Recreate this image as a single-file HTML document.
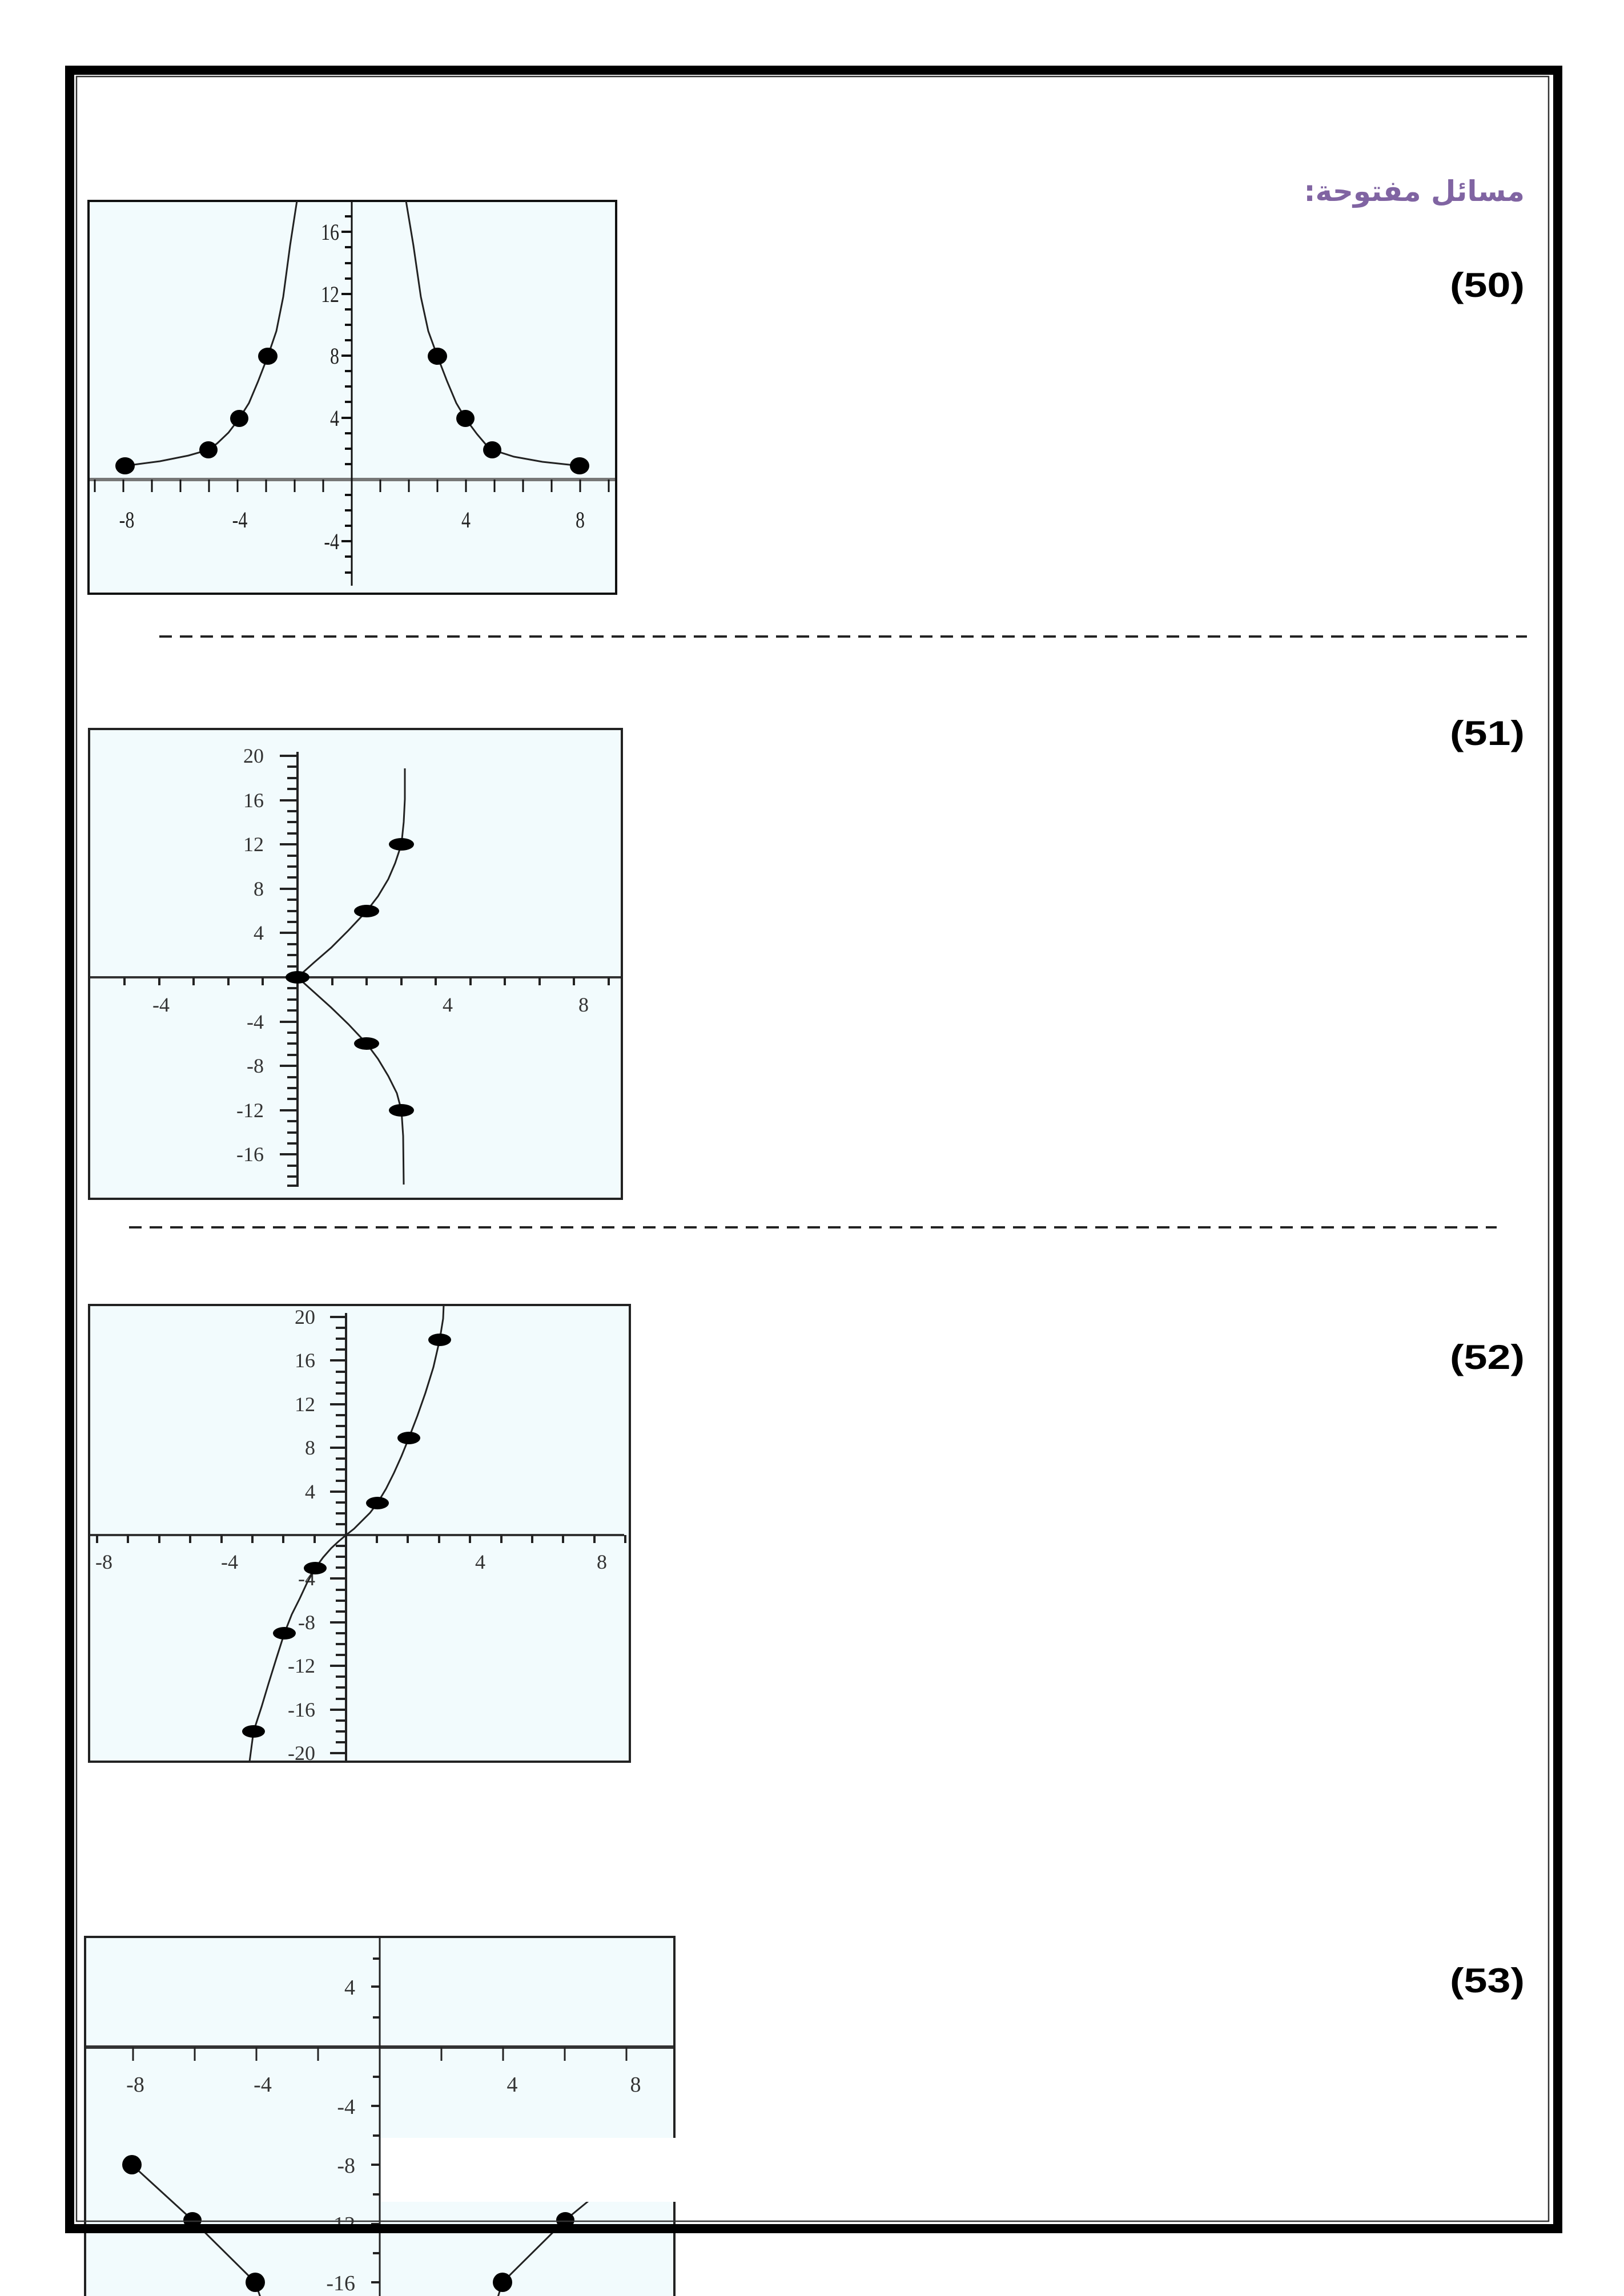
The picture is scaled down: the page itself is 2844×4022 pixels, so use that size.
<!DOCTYPE html>
<html><head><meta charset="utf-8"><style>html,body{margin:0;padding:0;background:#fff}svg{display:block}</style></head>
<body>
<svg width="2844" height="4022" viewBox="0 0 2844 4022" xmlns="http://www.w3.org/2000/svg">
<rect width="2844" height="4022" fill="#fff"/>

<!-- Title and labels -->
<text x="2670" y="352" direction="rtl" text-anchor="start" font-family="'DejaVu Sans', sans-serif" font-weight="bold" font-size="50" fill="#8064a2">مسائل مفتوحة:</text>
<g font-family="'Liberation Sans', sans-serif" font-weight="bold" font-size="60" fill="#000" text-anchor="end">
<text x="2670" y="520" textLength="131" lengthAdjust="spacingAndGlyphs">(50)</text>
<text x="2670" y="1305" textLength="131" lengthAdjust="spacingAndGlyphs">(51)</text>
<text x="2670" y="2398" textLength="131" lengthAdjust="spacingAndGlyphs">(52)</text>
<text x="2670" y="3490" textLength="131" lengthAdjust="spacingAndGlyphs">(53)</text>
</g>

<!-- dashed separators -->
<line x1="279" y1="1115" x2="2674" y2="1115" stroke="#222" stroke-width="4" stroke-dasharray="22 14"/>
<line x1="226" y1="2150" x2="2621" y2="2150" stroke="#222" stroke-width="4" stroke-dasharray="22 14"/>

<!-- Graph 1 -->
<g>
<rect x="155" y="352" width="924" height="688" fill="#f2fbfd" stroke="#111" stroke-width="4"/>
<line x1="157" y1="840" x2="1077" y2="840" stroke="#777" stroke-width="6"/>
<line x1="616" y1="352" x2="616" y2="1026" stroke="#111" stroke-width="3"/>
<path stroke="#111" stroke-width="3" d="M166 840v22M216 840v22M266 840v22M316 840v22M366 840v22M416 840v22M466 840v22M516 840v22M566 840v22M666 840v22M716 840v22M766 840v22M816 840v22M866 840v22M916 840v22M966 840v22M1016 840v22M1066 840v22"/>
<path stroke="#111" stroke-width="4" d="M604 1003h12M604 975h12M598 948h18M604 921h12M604 894h12M604 867h12M604 813h12M604 786h12M604 759h12M598 732h18M604 704h12M604 677h12M604 650h12M598 623h18M604 596h12M604 569h12M604 542h12M598 515h18M604 488h12M604 461h12M604 433h12M598 406h18M604 379h12"/>
<g font-family="'Liberation Serif', serif" font-size="40" fill="#222" text-anchor="middle">
<text x="222" y="924" transform="translate(222 0) scale(0.8 1) translate(-222 0)">-8</text>
<text x="420" y="924" transform="translate(420 0) scale(0.8 1) translate(-420 0)">-4</text>
<text x="816" y="924" transform="translate(816 0) scale(0.8 1) translate(-816 0)">4</text>
<text x="1016" y="924" transform="translate(1016 0) scale(0.8 1) translate(-1016 0)">8</text>
</g>
<g font-family="'Liberation Serif', serif" font-size="40" fill="#222" text-anchor="end">
<text x="594" y="420" transform="translate(594 0) scale(0.8 1) translate(-594 0)">16</text>
<text x="594" y="529" transform="translate(594 0) scale(0.8 1) translate(-594 0)">12</text>
<text x="594" y="637" transform="translate(594 0) scale(0.8 1) translate(-594 0)">8</text>
<text x="594" y="746" transform="translate(594 0) scale(0.8 1) translate(-594 0)">4</text>
<text x="594" y="962" transform="translate(594 0) scale(0.8 1) translate(-594 0)">-4</text>
</g>
<polyline fill="none" stroke="#222" stroke-width="3" points="520,352 508,430 496,520 484,580 469,624 452,668 436,706 419,733 400,758 380,777 365,788 330,798 280,808 219,816"/>
<polyline fill="none" stroke="#222" stroke-width="3" points="711,352 724,430 737,520 750,580 766,624 783,668 799,706 815,733 835,760 852,780 862,788 900,800 950,809 1015,816"/>
<g fill="#000">
<ellipse cx="219" cy="816" rx="17" ry="15"/><ellipse cx="365" cy="788" rx="16" ry="15"/><ellipse cx="419" cy="733" rx="16" ry="15"/><ellipse cx="469" cy="624" rx="17" ry="15"/>
<ellipse cx="766" cy="624" rx="17" ry="15"/><ellipse cx="815" cy="733" rx="16" ry="15"/><ellipse cx="862" cy="788" rx="16" ry="15"/><ellipse cx="1015" cy="816" rx="17" ry="15"/>
</g>
</g>

<!-- Graph 2 -->
<g>
<rect x="156" y="1277" width="933" height="823" fill="#f2fbfd" stroke="#222" stroke-width="4"/>
<line x1="158" y1="1712" x2="1087" y2="1712" stroke="#333" stroke-width="4"/>
<line x1="521" y1="1317" x2="521" y2="2079" stroke="#222" stroke-width="4"/>
<path stroke="#222" stroke-width="4" d="M218 1712v14M279 1712v14M339 1712v14M400 1712v14M460 1712v14M582 1712v14M642 1712v14M703 1712v14M763 1712v14M824 1712v14M884 1712v14M945 1712v14M1005 1712v14M1066 1712v14"/>
<path stroke="#222" stroke-width="4" d="M490 1324h31M503 1343h18M503 1363h18M503 1382h18M490 1402h31M503 1421h18M503 1440h18M503 1460h18M490 1479h31M503 1499h18M503 1518h18M503 1537h18M490 1557h31M503 1576h18M503 1596h18M503 1615h18M490 1634h31M503 1654h18M503 1673h18M503 1693h18M503 1731h18M503 1751h18M503 1770h18M490 1790h31M503 1809h18M503 1828h18M503 1848h18M490 1867h31M503 1887h18M503 1906h18M503 1925h18M490 1945h31M503 1964h18M503 1984h18M503 2003h18M490 2022h31M503 2042h18M503 2061h18M503 2077h18"/>
<g font-family="'Liberation Serif', serif" font-size="36" fill="#333" text-anchor="end">
<text x="462" y="1336">20</text><text x="462" y="1414">16</text><text x="462" y="1491">12</text><text x="462" y="1569">8</text><text x="462" y="1646">4</text>
<text x="462" y="1802">-4</text><text x="462" y="1879">-8</text><text x="462" y="1957">-12</text><text x="462" y="2034">-16</text>
</g>
<g font-family="'Liberation Serif', serif" font-size="36" fill="#333" text-anchor="middle">
<text x="282" y="1772">-4</text><text x="784" y="1772">4</text><text x="1022" y="1772">8</text>
</g>
<polyline fill="none" stroke="#222" stroke-width="3" points="709,1346 709,1400 707,1440 703,1479 692,1512 680,1540 662,1570 642,1596 610,1630 580,1660 550,1686 521,1712 550,1738 580,1765 610,1794 642,1828 662,1855 680,1885 695,1915 703,1945 706,1990 707,2075"/>
<g fill="#000">
<ellipse cx="521" cy="1712" rx="21" ry="11"/><ellipse cx="642" cy="1596" rx="22" ry="11"/><ellipse cx="703" cy="1479" rx="22" ry="11"/>
<ellipse cx="642" cy="1828" rx="22" ry="11"/><ellipse cx="703" cy="1945" rx="22" ry="11"/>
</g>
</g>

<!-- Graph 3 -->
<g>
<rect x="156" y="2286" width="947" height="800" fill="#f2fbfd" stroke="#222" stroke-width="4"/>
<line x1="158" y1="2689" x2="1093" y2="2689" stroke="#333" stroke-width="4"/>
<line x1="606" y1="2300" x2="606" y2="3086" stroke="#222" stroke-width="4"/>
<path stroke="#222" stroke-width="4" d="M170 2689v14M224 2689v14M279 2689v14M333 2689v14M388 2689v14M442 2689v14M496 2689v14M551 2689v14M660 2689v14M714 2689v14M769 2689v14M823 2689v14M878 2689v14M932 2689v14M986 2689v14M1041 2689v14M1095 2689v14"/>
<path stroke="#222" stroke-width="4" d="M578 2307h28M588 2326h18M588 2345h18M588 2364h18M578 2383h28M588 2403h18M588 2422h18M588 2441h18M578 2460h28M588 2479h18M588 2498h18M588 2517h18M578 2536h28M588 2555h18M588 2574h18M588 2594h18M578 2613h28M588 2632h18M588 2651h18M588 2670h18M588 2708h18M588 2727h18M588 2746h18M578 2765h28M588 2785h18M588 2804h18M588 2823h18M578 2842h28M588 2861h18M588 2880h18M588 2899h18M578 2918h28M588 2937h18M588 2956h18M588 2976h18M578 2995h28M588 3014h18M588 3033h18M588 3052h18M578 3071h28"/>
<g font-family="'Liberation Serif', serif" font-size="36" fill="#333" text-anchor="end">
<text x="552" y="2319">20</text><text x="552" y="2395">16</text><text x="552" y="2472">12</text><text x="552" y="2548">8</text><text x="552" y="2625">4</text>
<text x="552" y="2777">-4</text><text x="552" y="2854">-8</text><text x="552" y="2930">-12</text><text x="552" y="3007">-16</text><text x="552" y="3083">-20</text>
</g>
<g font-family="'Liberation Serif', serif" font-size="36" fill="#333" text-anchor="middle">
<text x="182" y="2748">-8</text><text x="402" y="2748">-4</text><text x="841" y="2748">4</text><text x="1054" y="2748">8</text>
</g>
<polyline fill="none" stroke="#222" stroke-width="3" points="437,3086 444,3033 458,2990 470,2950 484,2905 498,2861 511,2828 525,2800 538,2772 552,2747 566,2728 580,2712 593,2700 606,2689 620,2678 633,2665 648,2650 661,2633 676,2608 690,2580 703,2551 716,2519 731,2480 745,2440 759,2395 770,2347 776,2310 777,2286"/>
<g fill="#000">
<ellipse cx="661" cy="2633" rx="20" ry="11"/><ellipse cx="716" cy="2519" rx="20" ry="11"/><ellipse cx="770" cy="2347" rx="20" ry="11"/>
<ellipse cx="552" cy="2747" rx="20" ry="11"/><ellipse cx="498" cy="2861" rx="20" ry="11"/><ellipse cx="444" cy="3033" rx="20" ry="11"/>
</g>
</g>

<!-- Graph 4 -->
<g>
<path d="M149 4030V3393H1181V4030" fill="#f2fbfd" stroke="#222" stroke-width="4"/>
<line x1="151" y1="3586" x2="1179" y2="3586" stroke="#333" stroke-width="6"/>
<line x1="665" y1="3393" x2="665" y2="4022" stroke="#222" stroke-width="3"/>
<path stroke="#222" stroke-width="3" d="M233 3586v24M341 3586v24M449 3586v24M557 3586v24M773 3586v24M881 3586v24M989 3586v24M1097 3586v24"/>
<path stroke="#222" stroke-width="4" d="M653 3431h12M650 3480h15M653 3534h12M653 3638h12M650 3689h15M653 3741h12M650 3792h15M653 3844h12M650 3896h15M653 3947h12M650 3998h15"/>
<g font-family="'Liberation Serif', serif" font-size="38" fill="#333" text-anchor="end">
<text x="622" y="3494">4</text><text x="622" y="3703">-4</text><text x="622" y="3806">-8</text><text x="622" y="3909">-12</text><text x="622" y="4012">-16</text>
</g>
<g font-family="'Liberation Serif', serif" font-size="38" fill="#333" text-anchor="middle">
<text x="237" y="3664">-8</text><text x="460" y="3664">-4</text><text x="897" y="3664">4</text><text x="1113" y="3664">8</text>
</g>
<polyline fill="none" stroke="#222" stroke-width="3" points="231,3792 337,3889 447,3998 458,4030"/>
<polyline fill="none" stroke="#222" stroke-width="3" points="870,4030 880,3998 990,3889 1030,3856"/>
<g fill="#000">
<ellipse cx="231" cy="3792" rx="17" ry="17"/><ellipse cx="337" cy="3889" rx="16" ry="14"/><ellipse cx="447" cy="3998" rx="17" ry="17"/>
<ellipse cx="880" cy="3998" rx="17" ry="17"/><ellipse cx="990" cy="3889" rx="16" ry="14"/>
</g>
<rect x="667" y="3745" width="518" height="112" fill="#fff"/>
</g>

<!-- Page border -->
<rect x="122" y="123" width="2606" height="3781" fill="none" stroke="#000" stroke-width="16"/>
<rect x="134" y="134" width="2578" height="3757" fill="none" stroke="#333" stroke-width="2.5"/>
</svg>
</body></html>
